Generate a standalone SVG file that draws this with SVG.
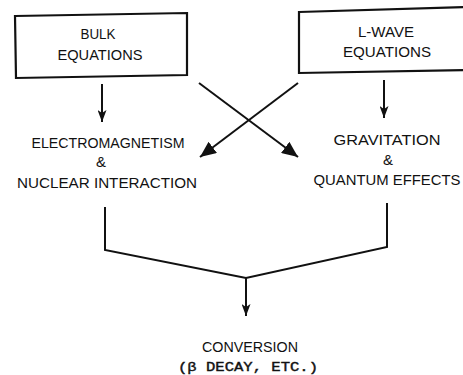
<svg xmlns="http://www.w3.org/2000/svg" width="463" height="375" viewBox="0 0 463 375">
<defs>
<style>
.t{font-family:"Liberation Sans",Arial,sans-serif;font-size:15px;fill:#111;text-anchor:middle}
.m{font-family:"Liberation Mono","Courier New",monospace;font-size:13px;fill:#111;stroke:#111;stroke-width:0.4;text-anchor:middle}
.box{fill:#fff;stroke:#111;stroke-width:2.2}
.ln{fill:none;stroke:#111;stroke-width:2;stroke-linejoin:miter}
</style>
<marker id="big" viewBox="0 0 16 14" refX="16" refY="7" markerWidth="16" markerHeight="14" markerUnits="userSpaceOnUse" orient="auto">
<path d="M0,0 L16,7 L0,14 Z" fill="#111"/>
</marker>
<marker id="sm" viewBox="0 0 12 9" refX="12" refY="4.5" markerWidth="12" markerHeight="9" markerUnits="userSpaceOnUse" orient="auto">
<path d="M0,0 L12,4.5 L0,9 L3,4.5 Z" fill="#111"/>
</marker>
</defs>
<rect width="463" height="375" fill="#fff"/>
<g id="bulk">
<polygon class="box" points="15,16 187,13 187,75 16,78"/>
<text class="t" x="98" y="39" textLength="35" lengthAdjust="spacingAndGlyphs">BULK</text>
<text class="t" x="100" y="60" textLength="85" lengthAdjust="spacingAndGlyphs">EQUATIONS</text>
</g>
<g id="lwave">
<polygon class="box" points="299,12 470,7 470,70 299,73"/>
<text class="t" x="386" y="37" textLength="56" lengthAdjust="spacingAndGlyphs">L-WAVE</text>
<text class="t" x="387" y="57" textLength="88" lengthAdjust="spacingAndGlyphs">EQUATIONS</text>
</g>
<g id="em">
<text class="t" x="108" y="148" textLength="153" lengthAdjust="spacingAndGlyphs">ELECTROMAGNETISM</text>
<text class="t" x="101" y="167">&amp;</text>
<text class="t" x="107" y="188" textLength="180" lengthAdjust="spacingAndGlyphs">NUCLEAR INTERACTION</text>
</g>
<g id="grav">
<text class="t" x="387" y="145" textLength="107" lengthAdjust="spacingAndGlyphs">GRAVITATION</text>
<text class="t" x="388" y="165">&amp;</text>
<text class="t" x="387" y="185" textLength="147" lengthAdjust="spacingAndGlyphs">QUANTUM EFFECTS</text>
</g>
<g id="conv">
<text class="t" x="250" y="352" textLength="96" lengthAdjust="spacingAndGlyphs">CONVERSION</text>
<text class="m" x="248" y="371" textLength="140" lengthAdjust="spacingAndGlyphs">(β DECAY, ETC.)</text>
</g>
<g id="connectors">
<line class="ln" x1="102" y1="84" x2="102" y2="122" marker-end="url(#sm)"/>
<line class="ln" x1="384" y1="80" x2="384" y2="118" marker-end="url(#sm)"/>
<line class="ln" x1="199" y1="83" x2="298" y2="157" marker-end="url(#big)"/>
<line class="ln" x1="298" y1="83" x2="200" y2="157" marker-end="url(#big)"/>
<polyline class="ln" points="105,207 105,250 246,278 387,247 387,203"/>
<line class="ln" x1="246" y1="278" x2="246" y2="316" marker-end="url(#sm)"/>
</g>
</svg>
